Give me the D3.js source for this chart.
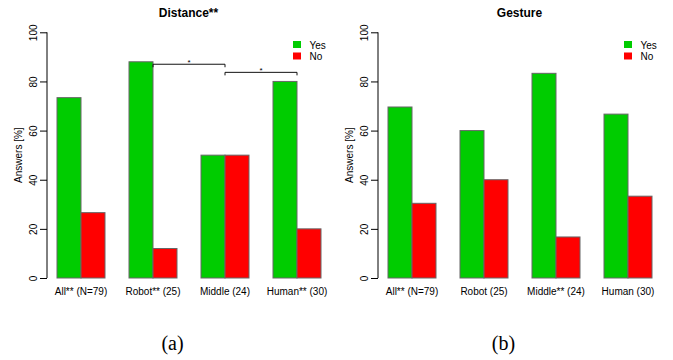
<!DOCTYPE html>
<html>
<head>
<meta charset="utf-8">
<script src="https://cdn.jsdelivr.net/npm/d3@7"></script>
<style>
  body { margin: 0; background: #fff; }
  text { font-family: "Liberation Sans", Arial, sans-serif; }
</style>
</head>
<body>
<script>
// data
const series = ['Yes', 'No']
const colors = ['#00cc00', '#ff0000']
const yTicks = [0, 20, 40, 60, 80, 100]

const distanceGroups = ['All** (N=79)', 'Robot** (25)', 'Middle (24)', 'Human** (30)']
const distanceYes = [73.4, 88, 50, 80]
const distanceNo = [26.6, 12, 50, 20]
// significance brackets: group index from / to, height in %
const distanceSig = [
  { from: 1, to: 2, y: 87 },
  { from: 2, to: 3, y: 83.7 }
]

const gestureGroups = ['All** (N=79)', 'Robot (25)', 'Middle** (24)', 'Human (30)']
const gestureYes = [69.6, 60, 83.3, 66.7]
const gestureNo = [30.4, 40, 16.7, 33.3]

const svg = d3.select('body').append('svg')
  .attr('width', 673)
  .attr('height', 360)

function drawPanel(left, title, groups, yes, no, sig, caption) {
  const g = svg.append('g').attr('transform', `translate(${left},0)`)
  const axisX = 47
  const y = d3.scaleLinear().domain([0, 100]).range([278, 32.3])
  const x = d3.scaleBand().domain(groups).range([57, 321]).paddingInner(1 / 3)
  const inner = d3.scaleBand().domain(series).range([0, x.bandwidth()])

  // title
  g.append('text')
    .attr('x', 188.5).attr('y', 17)
    .attr('text-anchor', 'middle')
    .style('font-weight', 'bold').style('font-size', '12px')
    .text(title)

  // y axis
  const yAxis = d3.axisLeft(y).tickValues(yTicks).tickSize(7).tickPadding(4)
  const ax = g.append('g').attr('transform', `translate(${axisX},0)`).call(yAxis)
  ax.select('.domain').attr('d', `M0,${y(0)}V${y(100)}`).attr('stroke', '#000')
  ax.selectAll('.tick line').attr('stroke', '#000')
  ax.selectAll('.tick text')
    .attr('x', null).attr('dy', null).attr('y', 0)
    .attr('text-anchor', 'middle')
    .attr('transform', 'translate(-10,0) rotate(-90)')
    .style('font-size', '10px')
    .style('font-family', '"Liberation Sans", Arial, sans-serif')
    .attr('fill', '#000')

  g.append('text')
    .attr('transform', `translate(21.5,${y(50)}) rotate(-90)`)
    .attr('text-anchor', 'middle')
    .style('font-size', '10px')
    .text('Answers [%]')

  // bars
  const rows = groups.map((grp, i) => ({ grp, vals: [yes[i], no[i]] }))
  const grpSel = g.selectAll('.grp').data(rows).join('g')
    .attr('transform', d => `translate(${x(d.grp)},0)`)
  grpSel.selectAll('rect').data(d => d.vals.map((v, j) => ({ v, s: series[j], c: colors[j] })))
    .join('rect')
    .attr('x', d => inner(d.s))
    .attr('y', d => y(d.v))
    .attr('width', inner.bandwidth())
    .attr('height', d => y(0) - y(d.v))
    .attr('fill', d => d.c)
    .attr('stroke', '#666')
    .attr('stroke-width', 1)

  // group labels
  g.selectAll('.xl').data(groups).join('text')
    .attr('x', d => x(d) + x.bandwidth() / 2)
    .attr('y', 295)
    .attr('text-anchor', 'middle')
    .style('font-size', '10px')
    .text(d => d)

  // significance brackets
  sig.forEach(s => {
    const x1 = x(groups[s.from]) + x.bandwidth() / 2
    const x2 = x(groups[s.to]) + x.bandwidth() / 2
    const yy = y(s.y)
    g.append('path')
      .attr('d', `M${x1},${yy + 3}V${yy}H${x2}V${yy + 3}`)
      .attr('fill', 'none').attr('stroke', '#111').attr('stroke-width', 1)
    g.append('text')
      .attr('x', (x1 + x2) / 2).attr('y', yy + 0.5)
      .attr('text-anchor', 'middle')
      .style('font-size', '8px')
      .text('*')
  })

  // legend
  const leg = g.append('g').attr('transform', 'translate(293,41)')
  series.forEach((s, i) => {
    leg.append('rect')
      .attr('x', 0).attr('y', i * 11.5)
      .attr('width', 8).attr('height', 7)
      .attr('fill', colors[i])
    leg.append('text')
      .attr('x', 16.5).attr('y', i * 11.5 + 7.5)
      .style('font-size', '10px')
      .text(s)
  })

  // caption
  g.append('text')
    .attr('x', 172.5).attr('y', 350)
    .attr('text-anchor', 'middle')
    .style('font-family', '"Liberation Serif", "Times New Roman", serif')
    .style('font-size', '20px')
    .text(caption)
}

drawPanel(0, 'Distance**', distanceGroups, distanceYes, distanceNo, distanceSig, '(a)')
drawPanel(331, 'Gesture', gestureGroups, gestureYes, gestureNo, [], '(b)')
</script>
</body>
</html>
